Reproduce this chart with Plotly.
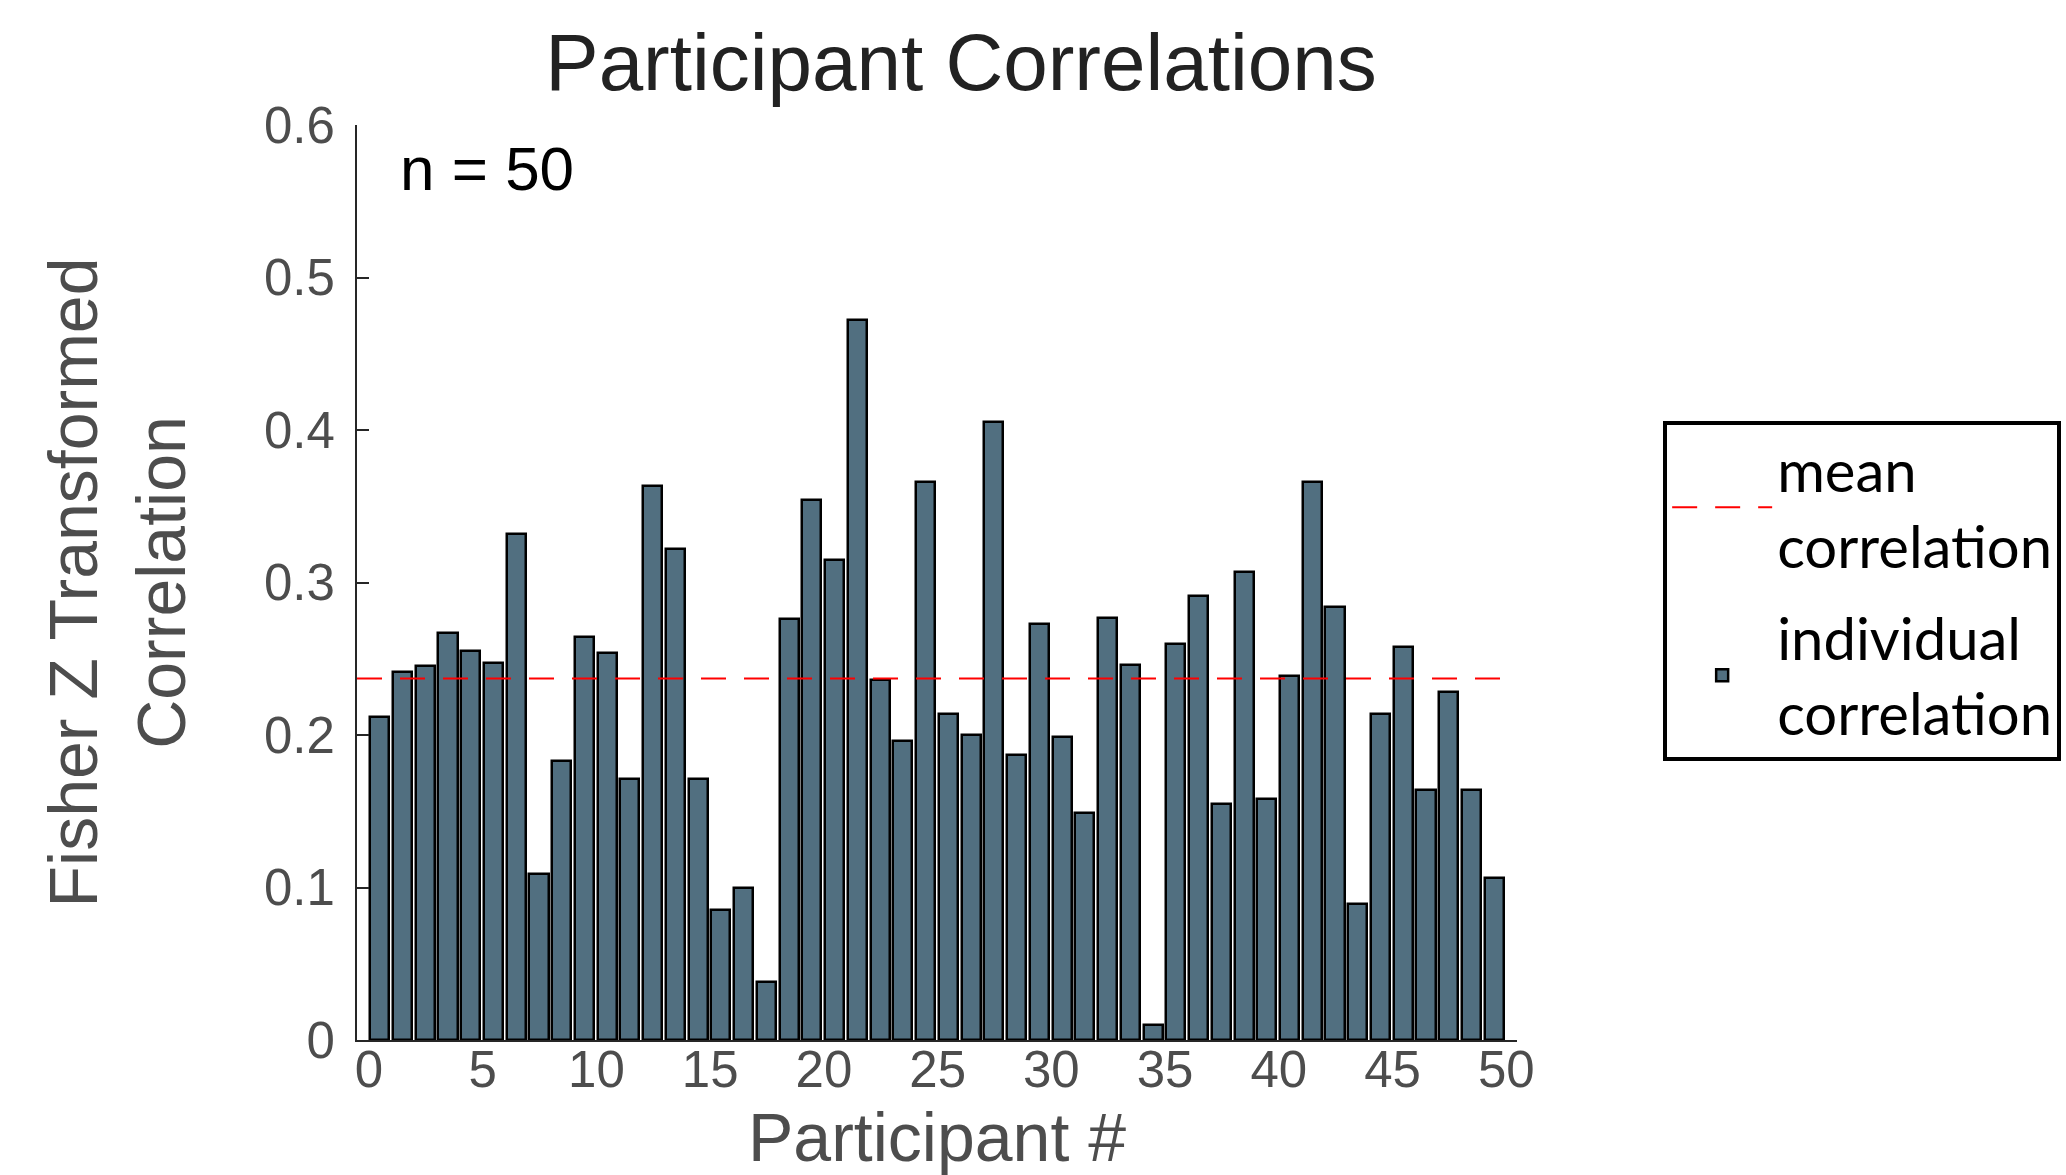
import plotly.graph_objects as go

participants = list(range(1, 51))
correlations = [0.212, 0.241, 0.245, 0.267, 0.255, 0.247, 0.332, 0.109, 0.183, 0.264,
                0.254, 0.171, 0.363, 0.322, 0.171, 0.085, 0.100, 0.038, 0.276, 0.354,
                0.315, 0.472, 0.236, 0.196, 0.366, 0.214, 0.200, 0.405, 0.187, 0.273,
                0.199, 0.149, 0.277, 0.246, 0.010, 0.260, 0.291, 0.155, 0.307, 0.158,
                0.239, 0.366, 0.284, 0.089, 0.214, 0.258, 0.164, 0.228, 0.164, 0.106]
mean_correlation = 0.237
x_range = [0, 51]
x_tickvals = [0, 5, 10, 15, 20, 25, 30, 35, 40, 45, 50]
y_tickvals = [0, 0.1, 0.2, 0.3, 0.4, 0.5, 0.6]
y_ticktext = ["0", "0.1", "0.2", "0.3", "0.4", "0.5", "0.6"]

BAR_COLOR = "#516f80"
AXIS_COLOR = "#262626"
TICK_COLOR = "#4d4d4d"
SANS = "Liberation Sans, Arial, Helvetica, sans-serif"

fig = go.Figure()
fig.add_trace(go.Bar(
    x=participants, y=correlations, width=0.84,
    marker=dict(color=BAR_COLOR, line=dict(color="black", width=2.5)),
    name="individual<br>correlation", legendrank=2, legendgroup="b",
))
fig.add_trace(go.Scatter(
    x=x_range, y=[mean_correlation, mean_correlation], mode="lines",
    line=dict(color="#ff0000", width=2, dash="25px,18px"),
    name="mean<br>correlation", legendrank=1, legendgroup="a",
))

fig.update_layout(
    width=2066, height=1175,
    margin=dict(l=357, r=549, t=125, b=135, autoexpand=False),
    plot_bgcolor="white", paper_bgcolor="white",
    bargap=0,
    title=dict(text="Participant Correlations", font=dict(family=SANS, size=80, color="#222222"),
               x=0.5207, xref="paper", xanchor="center", y=0.947, yref="container", yanchor="middle"),
    showlegend=True,
    legend=dict(x=1.126, xanchor="left", y=0.676, yanchor="top", xref="paper", yref="paper",
                bordercolor="black", borderwidth=4, bgcolor="white",
                font=dict(family="Lato, Noto Sans, sans-serif", size=58, color="black"),
                valign="middle", itemwidth=100, tracegroupgap=14),
    xaxis=dict(range=x_range, tickvals=x_tickvals, showgrid=False, zeroline=False,
               showline=True, linecolor=AXIS_COLOR, linewidth=2, ticks="",
               ticklabelshift=12, ticklabelstandoff=-16,
               tickfont=dict(family=SANS, size=51, color=TICK_COLOR),
               title=dict(text="Participant #", font=dict(family=SANS, size=68, color=TICK_COLOR), standoff=16)),
    yaxis=dict(range=[0, 0.6], tickvals=y_tickvals, ticktext=y_ticktext, showgrid=False, zeroline=False,
               showline=True, linecolor=AXIS_COLOR, linewidth=2, ticks="inside", ticklen=12,
               tickcolor=AXIS_COLOR, tickwidth=2, ticklabelstandoff=10,
               tickfont=dict(family=SANS, size=51, color=TICK_COLOR),
               title=dict(text="Fisher Z Transformed<br>Correlation",
                          font=dict(family=SANS, size=68, color=TICK_COLOR), standoff=56)),
    annotations=[dict(text="n = 50", x=1.8, y=0.5715, xref="x", yref="y", xanchor="left", yanchor="middle",
                      showarrow=False, font=dict(family=SANS, size=62, color="black"))],
)

fig.write_html("out.html")
